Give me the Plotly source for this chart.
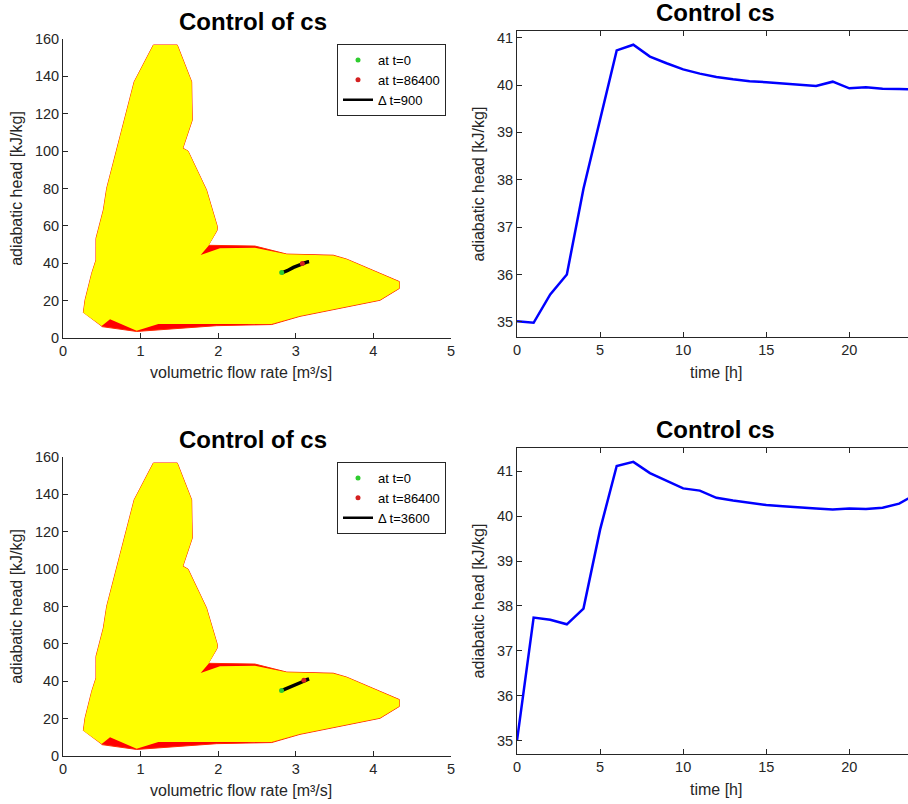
import plotly.graph_objects as go

# ---------------- data ----------------
hours = list(range(25))

head_900 = [35.01, 34.98, 35.58, 36.00, 37.81, 39.27, 40.73, 40.85, 40.60, 40.46, 40.33, 40.24, 40.17,
            40.12, 40.08, 40.06, 40.035, 40.01, 39.98, 40.07, 39.93, 39.95, 39.92, 39.915, 39.91]
flow_900 = [2.818, 2.83, 2.86, 2.89, 2.97, 3.05, 3.15, 3.17, 3.15, 3.14, 3.13, 3.12, 3.115,
            3.11, 3.105, 3.10, 3.10, 3.095, 3.09, 3.10, 3.085, 3.09, 3.085, 3.085, 3.084]

head_3600 = [35.00, 37.74, 37.69, 37.59, 37.94, 39.70, 41.12, 41.21, 40.96, 40.79, 40.62, 40.57, 40.41,
             40.35, 40.30, 40.25, 40.22, 40.19, 40.17, 40.15, 40.17, 40.16, 40.19, 40.28, 40.49]
flow_3600 = [2.816, 2.97, 2.97, 2.96, 2.98, 3.08, 3.16, 3.17, 3.155, 3.145, 3.135, 3.13, 3.12,
             3.115, 3.11, 3.11, 3.105, 3.105, 3.10, 3.10, 3.10, 3.10, 3.10, 3.102, 3.104]

# operating envelope (yellow) and wider envelope (red)
env_x = [0.262, 0.284, 0.370, 0.425, 0.425, 0.520, 0.563, 0.692, 0.917, 1.164, 1.473, 1.658, 1.666,
         1.545, 1.612, 1.849, 1.990, 1.985, 1.873, 1.774, 2.023, 2.474, 2.883, 3.483, 3.656, 4.334,
         4.334, 4.085, 3.054, 2.689, 1.980, 1.229, 0.949, 0.606, 0.498]
env_y = [13.5, 20.3, 34.6, 41.7, 53.3, 68.5, 80.1, 100.6, 137.1, 156.8, 156.8, 137.1, 116.6,
         101.6, 100.0, 79.3, 59.5, 57.5, 49.2, 44.4, 48.0, 48.3, 44.8, 44.2, 42.1, 30.1,
         26.6, 20.3, 11.8, 7.5, 7.5, 7.5, 3.9, 10.0, 6.4]
outer_x = [0.262, 0.284, 0.370, 0.425, 0.425, 0.520, 0.563, 0.692, 0.917, 1.164, 1.473, 1.658, 1.666,
           1.545, 1.612, 1.849, 1.990, 1.985, 1.873, 2.474, 2.883, 3.483, 3.656, 4.334,
           4.334, 4.085, 3.054, 2.689, 1.980, 0.949, 0.498]
outer_y = [13.5, 20.3, 34.6, 41.7, 53.3, 68.5, 80.1, 100.6, 137.1, 156.8, 156.8, 137.1, 116.6,
           101.6, 100.0, 79.3, 59.5, 57.5, 49.6, 49.2, 44.9, 44.3, 42.2, 30.2,
           26.5, 20.2, 11.6, 7.2, 6.6, 3.5, 6.1]

titles_left = "Control of cs"
titles_right = "Control cs"
xlabel_left = "volumetric flow rate [m³/s]"
xlabel_right = "time [h]"
ylabel = "adiabatic head [kJ/kg]"
legend_dt = ["Δ t=900", "Δ t=3600"]

FONT = "Liberation Sans, Arial, sans-serif"
AX = "#262626"
GREEN = "#2ecc2e"
RED = "#d42020"

fig = go.Figure()

def add_envelope(xa, ya, legend, head, flow, dtlabel):
    fig.add_trace(go.Scatter(x=outer_x, y=outer_y, fill="toself", fillcolor="#ff0000",
                             line=dict(color="#ff2a00", width=1), mode="lines",
                             showlegend=False, hoverinfo="skip", xaxis=xa, yaxis=ya))
    fig.add_trace(go.Scatter(x=env_x, y=env_y, fill="toself", fillcolor="#ffff00",
                             line=dict(color="rgba(0,0,0,0)", width=0), mode="lines",
                             showlegend=False, hoverinfo="skip", xaxis=xa, yaxis=ya))
    fig.add_trace(go.Scatter(x=flow, y=head, mode="lines", line=dict(color="black", width=3.5),
                             showlegend=False, xaxis=xa, yaxis=ya))
    fig.add_trace(go.Scatter(x=[flow[0]], y=[head[0]], mode="markers", name="at t=0",
                             marker=dict(color=GREEN, size=5), legend=legend, xaxis=xa, yaxis=ya))
    fig.add_trace(go.Scatter(x=[flow[-1]], y=[head[-1]], mode="markers", name="at t=86400",
                             marker=dict(color=RED, size=5), legend=legend, xaxis=xa, yaxis=ya))
    fig.add_trace(go.Scatter(x=[None], y=[None], mode="lines", name=dtlabel,
                             line=dict(color="black", width=2.5), legend=legend, xaxis=xa, yaxis=ya))

add_envelope("x", "y", "legend", head_900, flow_900, legend_dt[0])
add_envelope("x3", "y3", "legend2", head_3600, flow_3600, legend_dt[1])

fig.add_trace(go.Scatter(x=hours, y=head_900, mode="lines", line=dict(color="#0000ff", width=2.5),
                         showlegend=False, xaxis="x2", yaxis="y2"))
fig.add_trace(go.Scatter(x=hours, y=head_3600, mode="lines", line=dict(color="#0000ff", width=2.5),
                         showlegend=False, xaxis="x4", yaxis="y4"))

W, H = 908, 804
def px_x(a, b):
    return [a / W, b / W]
def px_y(top, bottom):
    return [1 - bottom / H, 1 - top / H]

tickfont = dict(family=FONT, size=14.5, color=AX)
labfont = dict(family=FONT, size=16, color=AX)

def xax(domain, rng, dtick, mirror):
    return dict(domain=domain, range=rng, dtick=dtick, tick0=0, showgrid=False, zeroline=False,
                showline=True, linecolor=AX, linewidth=1, ticks="inside", ticklen=5, tickcolor=AX,
                mirror=mirror, tickfont=tickfont, automargin=False)

def yax(domain, rng, dtick, anchor, tick0=0):
    return dict(domain=domain, range=rng, dtick=dtick, tick0=tick0, showgrid=False, zeroline=False,
                showline=True, linecolor=AX, linewidth=1, ticks="inside", ticklen=5, tickcolor=AX,
                tickfont=tickfont, anchor=anchor,
                title=dict(text=ylabel, font=labfont, standoff=8), automargin=False)

legfont = dict(family=FONT, size=13, color="black")

fig.update_layout(
    width=W, height=H, margin=dict(l=0, r=0, t=0, b=0),
    paper_bgcolor="white", plot_bgcolor="white",
    xaxis=xax(px_x(63, 451), [0, 5], 1, False) | dict(anchor="y"),
    yaxis=yax(px_y(39, 338), [0, 160], 20, "x"),
    xaxis2=xax(px_x(517, 908), [0, 23.53], 5, "ticks") | dict(anchor="y2"),
    yaxis2=yax(px_y(31, 337), [34.68, 41.14], 1, "x2", 35),
    xaxis3=xax(px_x(63, 451), [0, 5], 1, False) | dict(anchor="y3"),
    yaxis3=yax(px_y(457, 756), [0, 160], 20, "x3"),
    xaxis4=xax(px_x(517, 908), [0, 23.53], 5, "ticks") | dict(anchor="y4"),
    yaxis4=yax(px_y(448, 754), [34.70, 41.52], 1, "x4", 35),
    legend=dict(x=337 / W, y=1 - 44 / H, xanchor="left", yanchor="top", bgcolor="white",
                bordercolor="#262626", borderwidth=1, font=legfont,
                tracegroupgap=0, itemwidth=30),
    legend2=dict(x=337 / W, y=1 - 462 / H, xanchor="left", yanchor="top", bgcolor="white",
                 bordercolor="#262626", borderwidth=1, font=legfont,
                 tracegroupgap=0, itemwidth=30),
    showlegend=True,
)

def text(t, xc, yc, size, color, bold=False):
    fig.add_annotation(text=("<b>%s</b>" % t) if bold else t, x=xc / W, y=1 - yc / H,
                       xref="paper", yref="paper", showarrow=False,
                       font=dict(family=FONT, size=size, color=color),
                       xanchor="center", yanchor="middle")

text(titles_left, 253, 21, 24, "black", True)
text(titles_right, 715, 12, 24, "black", True)
text(titles_left, 253, 439, 24, "black", True)
text(titles_right, 715, 430, 24, "black", True)

text(xlabel_left, 241, 372, 16, AX)
text(xlabel_right, 716, 372, 16, AX)
text(xlabel_left, 241, 790, 16, AX)
text(xlabel_right, 716, 789, 16, AX)

fig.write_html("out.html", config={"displayModeBar": False},
               post_script="document.body.style.margin='0';document.body.style.overflow='hidden';")
